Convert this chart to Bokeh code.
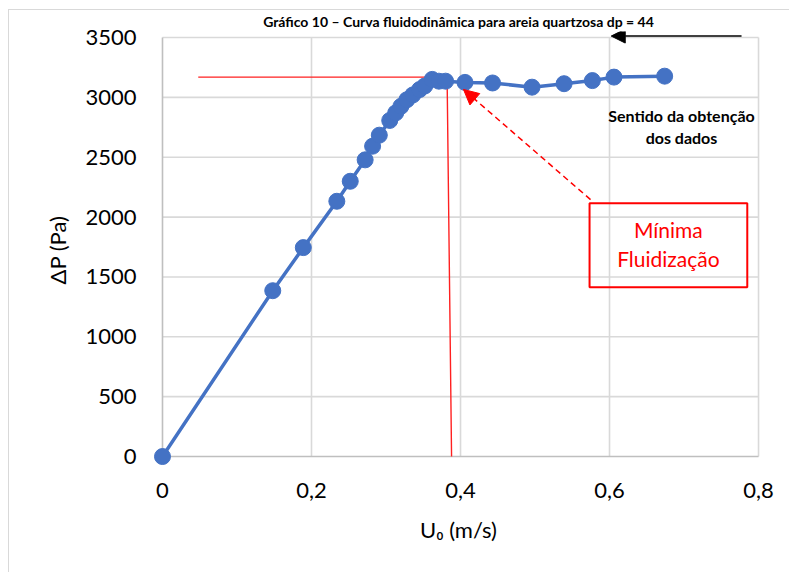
from bokeh.plotting import figure
from bokeh.models import Range1d, FixedTicker, Arrow, NormalHead, Label, InlineStyleSheet
from bokeh.embed import file_html
from bokeh.resources import INLINE

# Superficial velocity (m/s) and bed pressure drop (Pa)
u0 = [0, 0.148, 0.189, 0.234, 0.252, 0.272, 0.282, 0.291, 0.305, 0.313,
      0.320, 0.328, 0.336, 0.345, 0.352, 0.362, 0.371, 0.380, 0.406, 0.443,
      0.496, 0.539, 0.577, 0.606, 0.674]
delta_p = [0, 1385, 1745, 2132, 2299, 2478, 2592, 2684, 2807, 2870,
           2925, 2980, 3020, 3065, 3095, 3150, 3135, 3135, 3125, 3120,
           3085, 3114, 3140, 3169, 3177]

# Minimum fluidization guide lines
umf_guide_x = [0.048, 0.382, 0.388]
umf_guide_y = [3169, 3169, 0]

x_ticks = [0, 0.2, 0.4, 0.6, 0.8]
x_tick_labels = ["0", "0,2", "0,4", "0,6", "0,8"]
y_ticks = [0, 500, 1000, 1500, 2000, 2500, 3000, 3500]
y_tick_labels = ["0", "500", "1000", "1500", "2000", "2500", "3000", "3500"]

FONT = "Lato"
BLUE = "#4472C4"
GRID = "#d9d9d9"
AXIS = "#bfbfbf"

p = figure(width=789, height=572, output_backend="svg", toolbar_location=None,
           x_range=Range1d(-0.0161, 0.8107), y_range=Range1d(-100, 3550),
           min_border_left=150, min_border_right=23,
           min_border_top=31, min_border_bottom=104)
p.outline_line_color = None
p.background_fill_color = "white"
p.border_fill_color = "white"
p.xgrid.visible = False
p.ygrid.visible = False

# Chart caption
p.title.text = "Gráfico 10 – Curva fluidodinâmica para areia quartzosa dp = 44"
p.title.text_font = FONT
p.title.text_font_size = "14px"
p.title.text_font_style = "bold"
p.title.text_color = "black"
p.title.align = "center"
p.title.standoff = 3

# Thin grey border of the chart area (left and top edges)
p.stylesheets = [InlineStyleSheet(css="""
:host::after {
  content: "";
  position: absolute;
  left: 8px; top: 9px; right: 0; bottom: 0;
  border-left: 1px solid #d9d9d9;
  border-top: 1px solid #d9d9d9;
  pointer-events: none;
  z-index: 10;
}
""")]

# Gridlines drawn inside the value range only
xmin, xmax = x_ticks[0], x_ticks[-1]
ymin, ymax = y_ticks[0], y_ticks[-1]
p.segment(x0=x_ticks[1:], y0=[ymin] * 4, x1=x_ticks[1:], y1=[ymax] * 4,
          line_color=GRID, line_width=1.6)
p.segment(x0=[xmin] * 7, y0=y_ticks[1:], x1=[xmax] * 7, y1=y_ticks[1:],
          line_color=GRID, line_width=1.6)
p.segment(x0=[xmin, xmin], y0=[ymin, ymin], x1=[xmax, xmin], y1=[ymin, ymax],
          line_color=AXIS, line_width=1.6)

# Axes: labels only
for ax in (p.xaxis[0], p.yaxis[0]):
    ax.axis_line_color = None
    ax.major_tick_line_color = None
    ax.minor_tick_line_color = None
    ax.major_label_text_font = FONT
    ax.major_label_text_font_size = "22px"
    ax.major_label_text_color = "black"
    ax.axis_label_text_font = FONT
    ax.axis_label_text_font_size = "22px"
    ax.axis_label_text_font_style = "normal"
    ax.axis_label_text_color = "black"

p.xaxis.ticker = FixedTicker(ticks=x_ticks)
p.xaxis.major_label_overrides = dict(zip(x_ticks, x_tick_labels))
p.xaxis.major_label_standoff = 8
p.xaxis.axis_label = "U₀ (m/s)"
p.xaxis.axis_label_standoff = 15

p.yaxis.ticker = FixedTicker(ticks=y_ticks)
p.yaxis.major_label_overrides = dict(zip(y_ticks, y_tick_labels))
p.yaxis.major_label_standoff = 8
p.yaxis.axis_label = "ΔP (Pa)"
p.yaxis.axis_label_standoff = 11

# Red guides marking minimum fluidization
p.line(umf_guide_x, umf_guide_y, line_color="#ff2020", line_width=1.4)

# Fluidization curve
p.line(u0, delta_p, line_color=BLUE, line_width=3.5)
p.scatter(u0, delta_p, size=16, fill_color=BLUE, line_color=BLUE)

# Dashed pointer towards the minimum fluidization point
p.add_layout(Arrow(x_start=0.5745, y_start=2146, x_end=0.404, y_end=3066,
                   line_color="red", line_width=1.5, line_dash="6 4",
                   end=NormalHead(size=15, fill_color="red", line_color="red")))

# Red box with label
p.quad(left=[0.5732], right=[0.7849], bottom=[1413], top=[2115],
       fill_color=None, line_color="red", line_width=2)
p.add_layout(Label(x=0.679, y=1895, text="Mínima", text_align="center",
                   text_baseline="middle", text_font=FONT,
                   text_font_size="21px", text_color="red"))
p.add_layout(Label(x=0.679, y=1653, text="Fluidização", text_align="center",
                   text_baseline="middle", text_font=FONT,
                   text_font_size="21px", text_color="red"))

# Direction of data acquisition
p.add_layout(Arrow(x_start=0.7772, y_start=3512, x_end=0.6023, y_end=3512,
                   line_color="black", line_width=1.5,
                   end=NormalHead(size=14, fill_color="black", line_color="black")))
p.add_layout(Label(x=0.6966, y=2849, text="Sentido da obtenção",
                   text_align="center", text_baseline="middle", text_font=FONT,
                   text_font_size="16px", text_font_style="bold",
                   text_color="black"))
p.add_layout(Label(x=0.6966, y=2665, text="dos dados",
                   text_align="center", text_baseline="middle", text_font=FONT,
                   text_font_size="16px", text_font_style="bold",
                   text_color="black"))

open("out.html", "w").write(file_html(p, INLINE))
